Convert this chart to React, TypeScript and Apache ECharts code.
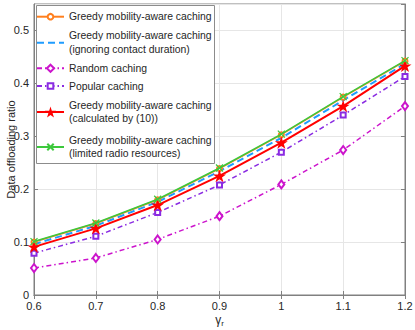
import React, { useEffect, useRef } from "react";
import * as echarts from "echarts";

const gammaValues = [0.6, 0.7, 0.8, 0.9, 1.0, 1.1, 1.2];
const greedy = [0.100, 0.135, 0.180, 0.239, 0.303, 0.374, 0.442];
const ignoringContact = [0.096, 0.131, 0.176, 0.234, 0.297, 0.368, 0.437];
const randomCaching = [0.051, 0.070, 0.105, 0.149, 0.209, 0.274, 0.357];
const popularCaching = [0.079, 0.111, 0.156, 0.208, 0.270, 0.340, 0.413];
const calculated = [0.091, 0.126, 0.170, 0.225, 0.288, 0.357, 0.433];
const limitedRadio = [0.101, 0.136, 0.181, 0.240, 0.304, 0.375, 0.443];

const seriesNames = [
  "Greedy mobility-aware caching",
  "Greedy mobility-aware caching\n(ignoring contact duration)",
  "Random caching",
  "Popular caching",
  "Greedy mobility-aware caching\n(calculated by (10))",
  "Greedy mobility-aware caching\n(limited radio resources)",
];

const STAR =
  "path://M50,0 L61.8,36.2 L100,36.2 L69.1,58.8 L80.9,95.1 L50,72.6 L19.1,95.1 L30.9,58.8 L0,36.2 L38.2,36.2 Z";
const CROSS = "path://M0,0 L10,10 M10,0 L0,10";

const pairs = (ys: number[]) => gammaValues.map((x, i) => [x, ys[i]]);

export default function App() {
  const ref = useRef<HTMLDivElement>(null);
  useEffect(() => {
    if (!ref.current) return;
    const chart = echarts.init(ref.current, undefined, { renderer: "svg" });
    const font = "Liberation Sans, Arial, Helvetica, sans-serif";
    const axisColor = "#808080";
    const labelColor = "#262626";
    const gridLine = { show: true, lineStyle: { color: "#e6e6e6", width: 1 } };

    const colors = ["#ff7f1e", "#1e9cff", "#cc14cc", "#8a2be2", "#ff0000", "#3cc83c"];
    const dashDot = [5, 3, 1.5, 3];

    const series: any[] = [
      {
        name: seriesNames[0],
        type: "line",
        data: pairs(greedy),
        symbol: "emptyCircle",
        symbolSize: 5,
        lineStyle: { color: colors[0], width: 1.5 },
        itemStyle: { color: colors[0], borderColor: colors[0], borderWidth: 1.2 },
        z: 3,
      },
      {
        name: seriesNames[1],
        type: "line",
        data: pairs(ignoringContact),
        symbol: "none",
        lineStyle: { color: colors[1], width: 2, type: [7, 4] },
        itemStyle: { color: colors[1] },
        z: 2,
      },
      {
        name: seriesNames[2],
        type: "line",
        data: pairs(randomCaching),
        symbol: "emptyDiamond",
        symbolSize: [6, 8],
        lineStyle: { color: colors[2], width: 1.5, type: dashDot },
        itemStyle: { color: colors[2], borderColor: colors[2], borderWidth: 1.2 },
      },
      {
        name: seriesNames[3],
        type: "line",
        data: pairs(popularCaching),
        symbol: "emptyRect",
        symbolSize: 5,
        lineStyle: { color: colors[3], width: 1.5, type: dashDot },
        itemStyle: { color: colors[3], borderColor: colors[3], borderWidth: 1.2 },
      },
      {
        name: seriesNames[4],
        type: "line",
        data: pairs(calculated),
        symbol: STAR,
        symbolSize: 13,
        symbolKeepAspect: true,
        lineStyle: { color: colors[4], width: 2 },
        itemStyle: { color: colors[4], borderColor: colors[4], borderWidth: 0 },
        z: 3,
      },
      {
        name: seriesNames[5],
        type: "line",
        data: pairs(limitedRadio),
        symbol: CROSS,
        symbolSize: 7,
        lineStyle: { color: colors[5], width: 1.5 },
        itemStyle: { color: "none", borderColor: colors[5], borderWidth: 1.2 },
        z: 4,
      },
    ];

    const legendCenters = [16.7, 42.7, 68.3, 86, 112, 147];
    const legendIconHeights = [7, 8, 9, 7, 14, 8];
    const legendLines = [1, 2, 1, 1, 2, 2];
    const legends = seriesNames.map((n, i) => {
      const h = Math.max(legendLines[i] * 13.5, legendIconHeights[i]);
      const item: any =
        i === 1
          ? { name: n, itemStyle: { color: "rgba(0,0,0,0)", borderColor: "rgba(0,0,0,0)", borderWidth: 0 } }
          : { name: n };
      return {
        data: [item],
        left: 36,
        top: legendCenters[i] - h / 2,
        orient: "vertical",
        padding: 0,
        itemWidth: 27,
        itemHeight: legendIconHeights[i],
        itemGap: 0,
        selectedMode: false,
        z: 10,
        textStyle: {
          fontFamily: font,
          fontSize: 10.4,
          lineHeight: 13.5,
          color: labelColor,
        },
      };
    });

    chart.setOption({
      animation: false,
      backgroundColor: "#ffffff",
      grid: {
        left: 34,
        right: 10,
        top: 4,
        bottom: 35,
        containLabel: false,
        outerBoundsMode: "none",
        show: true,
        borderColor: axisColor,
        borderWidth: 1,
      },
      graphic: [
        {
          type: "rect",
          z: 9,
          shape: { x: 36.5, y: 5.5, width: 178, height: 158 },
          style: { fill: "#ffffff", stroke: "#8c8c8c", lineWidth: 1 },
        },
      ],
      legend: legends,
      xAxis: [
        {
          type: "value",
          min: 0.6,
          max: 1.2,
          interval: 0.1,
          name: "{g|γ}{s|r}",
          nameLocation: "middle",
          nameGap: 17,
          nameMoveOverlap: false,
          nameTextStyle: {
            rich: {
              g: { fontFamily: font, fontSize: 12, color: labelColor },
              s: { fontFamily: font, fontSize: 8, color: labelColor, padding: [7, 0, 0, 0] },
            },
          },
          axisLine: { show: true, lineStyle: { color: axisColor } },
          axisTick: { show: true, inside: true, length: 4, lineStyle: { color: axisColor } },
          axisLabel: { fontFamily: font, fontSize: 11, color: labelColor, margin: 5 },
          splitLine: gridLine,
        },
        {
          type: "value",
          position: "top",
          min: 0.6,
          max: 1.2,
          interval: 0.1,
          axisLine: { show: true, lineStyle: { color: axisColor } },
          axisTick: { show: true, inside: true, length: 4, lineStyle: { color: axisColor } },
          axisLabel: { show: false },
          splitLine: { show: false },
        },
      ],
      yAxis: [
        {
          type: "value",
          min: 0,
          max: 0.55,
          interval: 0.1,
          name: "Data offloading ratio",
          nameLocation: "middle",
          nameGap: 18,
          nameMoveOverlap: false,
          nameTextStyle: { fontFamily: font, fontSize: 11, color: labelColor },
          axisLine: { show: true, lineStyle: { color: axisColor } },
          axisTick: { show: true, inside: true, length: 4, lineStyle: { color: axisColor } },
          axisLabel: { fontFamily: font, fontSize: 11, color: labelColor, margin: 5, showMaxLabel: false },
          splitLine: gridLine,
        },
        {
          type: "value",
          position: "right",
          min: 0,
          max: 0.55,
          interval: 0.1,
          axisLine: { show: true, lineStyle: { color: axisColor } },
          axisTick: { show: true, inside: true, length: 4, lineStyle: { color: axisColor } },
          axisLabel: { show: false },
          splitLine: { show: false },
        },
      ],
      series,
    });
    return () => chart.dispose();
  }, []);
  return (
    <div
      ref={ref}
      style={{ position: "fixed", left: 0, top: 0, width: 415, height: 330 }}
    />
  );
}
